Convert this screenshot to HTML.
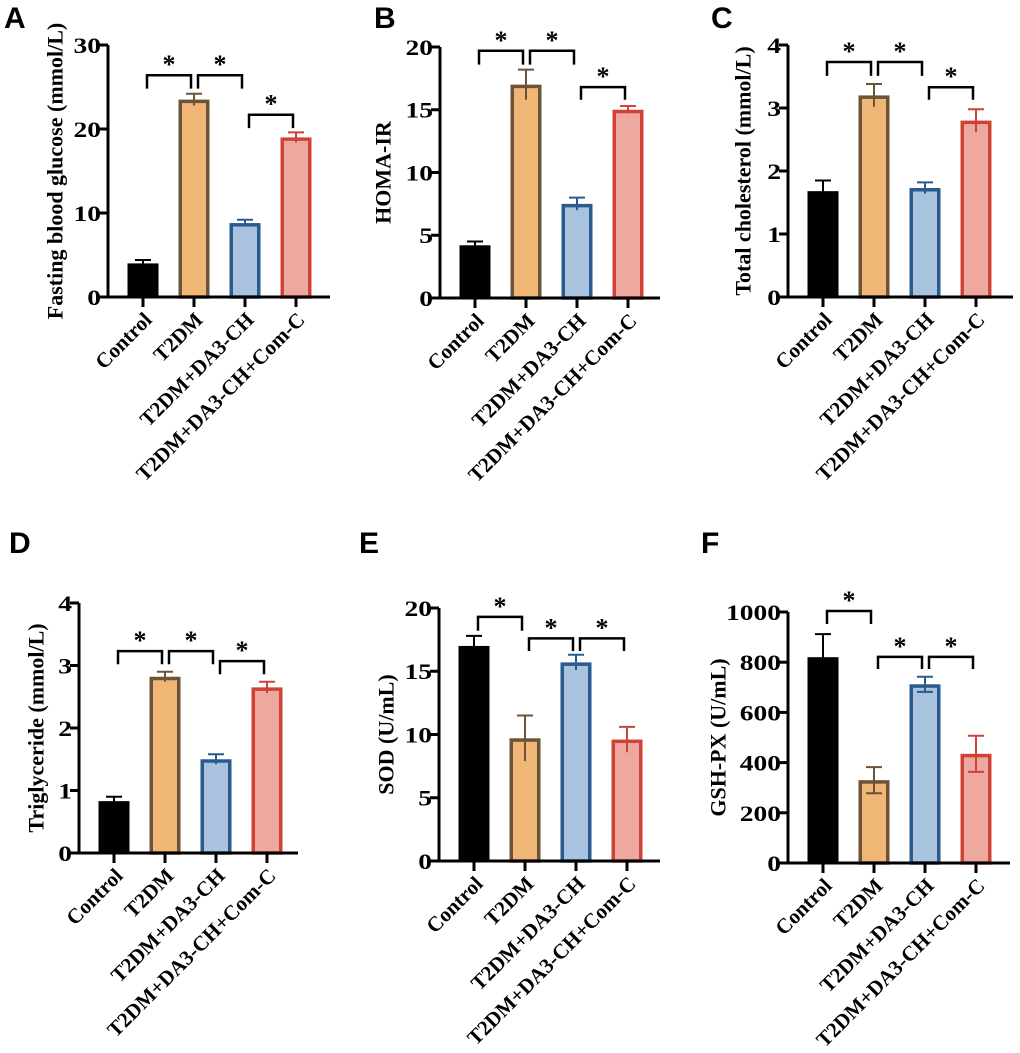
<!DOCTYPE html>
<html><head><meta charset="utf-8"><style>
html,body{margin:0;padding:0;background:#fff;}
svg{display:block;}
text{font-family:"Liberation Serif",serif;font-weight:bold;fill:#000;}
.letter{font-family:"Liberation Sans",sans-serif;font-size:30px;}
</style></head><body>
<svg id="fig" width="1020" height="1053" viewBox="0 0 1020 1053" xmlns="http://www.w3.org/2000/svg"></svg>
<script>
const categories = ["Control","T2DM","T2DM+DA3-CH","T2DM+DA3-CH+Com-C"];
const valsA = [4.0, 23.5, 8.8, 19.0];
const errA  = [0.4, 0.7, 0.4, 0.6];
const valsB = [4.2, 17.0, 7.5, 15.0];
const errB  = [0.3, 1.2, 0.5, 0.3];
const valsC = [1.68, 3.2, 1.73, 2.8];
const errC  = [0.17, 0.18, 0.09, 0.18];
const valsD = [0.83, 2.82, 1.5, 2.65];
const errD  = [0.07, 0.08, 0.08, 0.09];
const valsE = [17.0, 9.7, 15.7, 9.6];
const errE  = [0.8, 1.8, 0.6, 1.0];
const valsF = [820, 330, 712, 435];
const errF  = [92, 52, 30, 72];
const ticksA = [0,10,20,30];
const ticksB = [0,5,10,15,20];
const ticksC = [0,1,2,3,4];
const ticksD = [0,1,2,3,4];
const ticksE = [0,5,10,15,20];
const ticksF = [0,200,400,600,800,1000];
const sigA = [[0,1,26.4,24.8],[1,2,26.4,24.8],[2,3,21.7,20.1]];
const sigB = [[0,1,19.7,18.6],[1,2,19.7,18.6],[2,3,16.8,15.8]];
const sigC = [[0,1,3.73,3.51],[1,2,3.73,3.51],[2,3,3.33,3.13]];
const sigD = [[0,1,3.23,3.02],[1,2,3.23,3.02],[2,3,3.07,2.86]];
const sigE = [[0,1,19.3,18.2],[1,2,17.6,16.6],[2,3,17.6,16.6]];
const sigF = [[0,1,1004,952],[1,2,821,773],[2,3,821,773]];

const fills = ["#000000","#F0B675","#A9C2DE","#EEA8A0"];
const strokes = ["#000000","#6A5337","#2A5B8E","#CF4337"];
const NS = "http://www.w3.org/2000/svg";
const svg = document.getElementById("fig");
function mk(tag, attrs, parent){
  const e = document.createElementNS(NS, tag);
  for (const k in attrs) e.setAttribute(k, attrs[k]);
  (parent||svg).appendChild(e);
  return e;
}
const panels = [
 {id:"a",letter:"A",lx:4,ly:28,ax:108,y0:297,yt:45,xe:330,max:30,vals:valsA,err:errA,ticks:ticksA,sig:sigA,title:"Fasting blood glucose (mmol/L)",tx:55},
 {id:"b",letter:"B",lx:374,ly:28,ax:440,y0:298,yt:47,xe:660,max:20,vals:valsB,err:errB,ticks:ticksB,sig:sigB,title:"HOMA-IR",tx:383},
 {id:"c",letter:"C",lx:711,ly:28,ax:788,y0:297,yt:45,xe:1013,max:4,vals:valsC,err:errC,ticks:ticksC,sig:sigC,title:"Total cholesterol (mmol/L)",tx:743},
 {id:"d",letter:"D",lx:9,ly:553,ax:79,y0:853,yt:603,xe:298,max:4,vals:valsD,err:errD,ticks:ticksD,sig:sigD,title:"Triglyceride (mmol/L)",tx:36},
 {id:"e",letter:"E",lx:359,ly:553,ax:439,y0:861,yt:608,xe:660,max:20,vals:valsE,err:errE,ticks:ticksE,sig:sigE,title:"SOD (U/mL)",tx:386},
 {id:"f",letter:"F",lx:701,ly:553,ax:788,y0:863,yt:612,xe:1010,max:1000,vals:valsF,err:errF,ticks:ticksF,sig:sigF,title:"GSH-PX (U/mL)",tx:718}
];
const offs = [35,86,137,188];
panels.forEach(p=>{
  const g = mk("g",{});
  
  
  const y = v => p.y0 - v/p.max*(p.y0-p.yt);
  const x = i => p.ax + offs[i];
  const L = mk("text",{x:p.lx,y:p.ly,class:"letter"},g); L.textContent=p.letter;
  
  
  p.vals.forEach((v,i)=>{
    const bw = 31, sw = i===0?0:3.5;
    const r = mk("rect",{x:x(i)-bw/2+sw/2,y:y(v)+sw/2,width:bw-sw,height:p.y0-y(v)-sw/2,fill:fills[i],stroke:strokes[i],"stroke-width":sw},g);
    
    
    const e = mk("path",{d:`M${x(i)},${y(v-p.err[i])}V${y(v+p.err[i])}M${x(i)-8},${y(v+p.err[i])}H${x(i)+8}`+(i>0&&p.id==="f"?`M${x(i)-8},${y(v-p.err[i])}H${x(i)+8}`:""),stroke:strokes[i],"stroke-width":2,fill:"none"},g);
    
    
  });
  const ax = mk("path",{d:`M${p.ax},${p.yt}V${p.y0}H${p.xe}`,stroke:"#000","stroke-width":3,fill:"none"},g);
  
  
  p.ticks.forEach(t=>{
    mk("path",{d:`M${p.ax-9},${y(t)}H${p.ax}`,stroke:"#000","stroke-width":3},g);
    const tt = mk("text",{x:p.ax-7,y:y(t)+8,"text-anchor":"end","font-size":22,transform:`translate(${p.ax-7},0) scale(1.25,1) translate(${-(p.ax-7)},0)`},g);
    tt.textContent = t;
    
    
  });
  categories.forEach((c,i)=>{
    mk("path",{d:`M${x(i)},${p.y0}V${p.y0+10}`,stroke:"#000","stroke-width":3},g);
    const cx = x(i)+10, cy = p.y0+24;
    const ct = mk("text",{x:cx,y:cy,"text-anchor":"end","font-size":21,transform:`rotate(-45 ${cx} ${cy})`},g);
    ct.textContent = c;
    
    
  });
  const my = (p.y0+p.yt)/2;
  const yt = mk("text",{x:p.tx,y:my,"text-anchor":"middle","font-size":22,transform:`rotate(-90 ${p.tx} ${my})`,"dominant-baseline":"central"},g);
  yt.textContent = p.title;
  
  
  p.sig.forEach(s=>{
    const x1 = x(s[0])+4, x2 = x(s[1])-3;
    const b = mk("path",{d:`M${x1},${y(s[3])}V${y(s[2])}H${x2}V${y(s[3])}`,stroke:"#000","stroke-width":2.5,fill:"none"},g);
    
    
    const a = mk("text",{x:(x1+x2)/2,y:y(s[2])-2,"text-anchor":"middle","font-size":26},g);
    a.textContent = "*";
    
    
  });
});
</script>
</body></html>
